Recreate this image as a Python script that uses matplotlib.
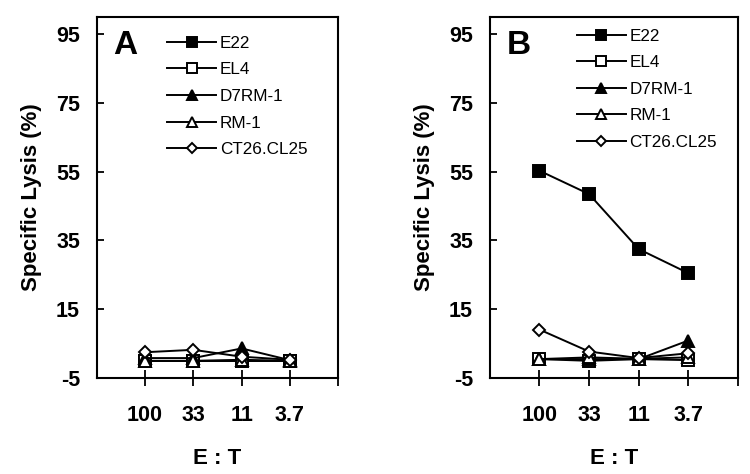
import matplotlib
matplotlib.use("Agg")
import matplotlib.pyplot as plt
import numpy as np

plt.rcParams.update({"font.family": ["Liberation Sans", "DejaVu Sans"],
                     "axes.unicode_minus": False})

ratios = ["100", "33", "11", "3.7"]
names = ["E22", "EL4", "D7RM-1", "RM-1", "CT26.CL25"]

# panel A: specific lysis (%)
a_e22 = [0, 0, 0, 0]
a_el4 = [0, 0, 0, 0]
a_d7rm1 = [0.8, 0.8, 3.6, 0.2]
a_rm1 = [0, 0, 0.3, 0]
a_ct26 = [2.5, 3.2, 1.2, 0.3]

# panel B
b_e22 = [55.3, 48.5, 32.5, 25.5]
b_el4 = [0.5, 0, 0.5, 0.2]
b_d7rm1 = [0.5, 0.5, 0.5, 5.9]
b_rm1 = [0.5, 1.0, 0.6, 1.0]
b_ct26 = [9.1, 2.7, 0.8, 2.2]

styles = [
    dict(marker="s", mfc="black", ms=9),
    dict(marker="s", mfc="white", ms=9),
    dict(marker="^", mfc="black", ms=9),
    dict(marker="^", mfc="white", ms=9),
    dict(marker="D", mfc="white", ms=6.5),
]


def draw(ax, series, tag, leg_anchor):
    x = np.arange(1, len(ratios) + 1)
    for name, vals, st in zip(names, series, styles):
        ax.plot(x, vals, color="black", lw=1.4, mec="black", mew=1.4,
                label=name, **st)
    ax.set_xlim(0, 5)
    ax.set_ylim(-5, 100)
    ax.set_yticks([-5, 15, 35, 55, 75, 95])
    ax.set_xticks(x)
    ax.set_xticklabels(ratios)
    ax.set_xticks([5], minor=True)
    ax.tick_params(axis="y", direction="in", length=5, width=1.3, pad=12,
                   labelsize=15.5)
    ax.tick_params(axis="x", which="both", direction="inout", length=11,
                   width=1.3, pad=14, labelsize=15.5)
    for lab in ax.get_xticklabels() + ax.get_yticklabels():
        lab.set_fontweight("bold")
    for sp in ax.spines.values():
        sp.set_linewidth(1.5)
    ax.set_xlabel("E : T", fontsize=16, fontweight="bold", labelpad=16)
    ax.set_ylabel("Specific Lysis (%)", fontsize=16, fontweight="bold",
                  labelpad=10)
    ax.text(0.07, 0.92, tag, transform=ax.transAxes, fontsize=24,
            fontweight="bold", va="center", ha="left")
    ax.legend(loc="upper left", bbox_to_anchor=leg_anchor, frameon=False,
              fontsize=12.3, handlelength=2.9, handletextpad=0.2,
              labelspacing=0.68, borderpad=0, borderaxespad=0,
              markerscale=0.85)


fig = plt.figure(figsize=(7.5, 4.74), dpi=100)
ax_a = fig.add_axes([0.129, 0.2025, 0.322, 0.7616])
ax_b = fig.add_axes([0.653, 0.2025, 0.331, 0.7616])

draw(ax_a, [a_e22, a_el4, a_d7rm1, a_rm1, a_ct26], "A", (0.29, 0.948))
draw(ax_b, [b_e22, b_el4, b_d7rm1, b_rm1, b_ct26], "B", (0.35, 0.968))

fig.savefig("out.png", dpi=100)
